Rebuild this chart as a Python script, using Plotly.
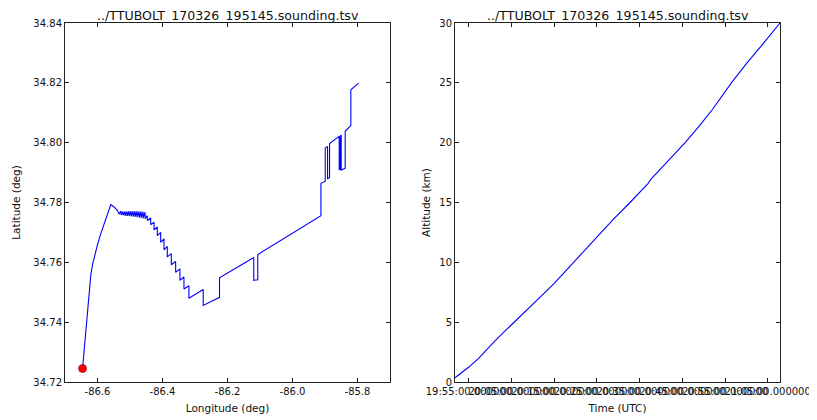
import plotly.graph_objects as go

# ---------------- data ----------------
TITLE = "../TTUBOLT_170326_195145.sounding.tsv"
DATE = "2017-03-26 "

# Track: longitude / latitude (deg)
lon = [
    -86.6460, -86.6409, -86.6358, -86.6307, -86.6256, -86.6205, -86.6153, -86.6082,
    -86.6000, -86.5898, -86.5795, -86.5693, -86.5591, -86.5488, -86.5386, -86.5335,
    -86.5274, -86.5274, -86.5212, -86.5212, -86.5151, -86.5151, -86.5090, -86.5090,
    -86.5028, -86.5028, -86.4967, -86.4967, -86.4905, -86.4905, -86.4844, -86.4844,
    -86.4783, -86.4783, -86.4721, -86.4721, -86.4660, -86.4660, -86.4598, -86.4598,
    -86.4537, -86.4537,
    -86.4466, -86.4466, -86.4363, -86.4363, -86.4261, -86.4261, -86.4159, -86.4159,
    -86.4056, -86.4056, -86.3954, -86.3954, -86.3852, -86.3852, -86.3729, -86.3729,
    -86.3596, -86.3596, -86.3463, -86.3463, -86.3340, -86.3340, -86.3187, -86.3187,
    -86.2747, -86.2747, -86.2246, -86.2246, -86.1192, -86.1192, -86.1069, -86.1069,
    -85.9125, -85.9125, -85.8992, -85.8992, -85.8921, -85.8921, -85.8860, -85.8860,
    -85.8563, -85.8563, -85.8532, -85.8532, -85.8501, -85.8501, -85.8379, -85.8379,
    -85.8205, -85.8205, -85.7969,
]
lat = [
    34.7245, 34.7308, 34.7375, 34.7447, 34.7520, 34.7559, 34.7592, 34.7626,
    34.7659, 34.7696, 34.7731, 34.7763, 34.7793, 34.7785, 34.7773, 34.7762,
    34.7771, 34.7758, 34.7770, 34.7757, 34.7770, 34.7756, 34.7770, 34.7755,
    34.7771, 34.7755, 34.7771, 34.7754, 34.7771, 34.7753, 34.7771, 34.7752,
    34.7771, 34.7751, 34.7770, 34.7750, 34.7770, 34.7749, 34.7769, 34.7747,
    34.7768, 34.7746,
    34.7756, 34.7740, 34.7748, 34.7726, 34.7734, 34.7709, 34.7718, 34.7689,
    34.7700, 34.7667, 34.7678, 34.7642, 34.7653, 34.7618, 34.7629, 34.7592,
    34.7603, 34.7567, 34.7578, 34.7540, 34.7551, 34.7511, 34.7522, 34.7480,
    34.7509, 34.7456, 34.7483, 34.7548, 34.7616, 34.7540, 34.7542, 34.7626,
    34.7756, 34.7864, 34.7871, 34.7982, 34.7987, 34.7880, 34.7883, 34.7997,
    34.8021, 34.7910, 34.7911, 34.8023, 34.8024, 34.7908, 34.7915, 34.8038,
    34.8057, 34.8177, 34.8199,
]

# Altitude vs time
time_utc = [
    "19:51:45", "19:53:30", "19:55:00", "19:57:20", "19:59:00", "20:01:00", "20:03:00",
    "20:05:40", "20:09:00", "20:12:00", "20:15:00", "20:19:30", "20:23:00", "20:26:00",
    "20:29:00", "20:32:45", "20:37:00", "20:37:40", "20:41:00", "20:45:40", "20:49:00",
    "20:52:00", "20:56:30", "21:00:00", "21:04:00", "21:07:53",
]
alt_km = [
    0.35, 0.85, 1.25, 2.00, 2.65, 3.40, 4.10,
    5.00, 6.15, 7.20, 8.25, 10.00, 11.30, 12.50,
    13.65, 15.00, 16.60, 16.95, 18.20, 20.00, 21.40,
    22.75, 25.00, 26.60, 28.30, 30.00,
]

lon_ticks = [-86.6, -86.4, -86.2, -86.0, -85.8]
lon_ticktext = ["-86.6", "-86.4", "-86.2", "-86.0", "-85.8"]
lat_ticks = [34.72, 34.74, 34.76, 34.78, 34.80, 34.82, 34.84]
alt_ticks = [0, 5, 10, 15, 20, 25, 30]
time_ticks = ["19:55:00", "20:05:00", "20:15:00", "20:25:00", "20:35:00",
              "20:45:00", "20:55:00", "21:05:00"]
time_ticktext = [t + ".000000" for t in time_ticks]

# ---------------- figure ----------------
# page body has an 8px default margin, so the figure is drawn 8px smaller
W, H = 809, 412
ML, MR, MT, MB = 57, 37, 15, 38
PW = W - ML - MR
FONT = "DejaVu Sans"
FRAME = "#222222"
BLUE = "#0000ff"
TXT = "#111111"

times = [DATE + t for t in time_utc]

fig = go.Figure()
fig.add_trace(go.Scatter(x=lon, y=lat, mode="lines",
                         line=dict(color=BLUE, width=1.1),
                         xaxis="x", yaxis="y", showlegend=False))
fig.add_trace(go.Scatter(x=[lon[0]], y=[lat[0]], mode="markers",
                         marker=dict(color="#ff0000", size=8,
                                     line=dict(color="#880000", width=0.6)),
                         xaxis="x", yaxis="y", showlegend=False))
fig.add_trace(go.Scatter(x=times, y=alt_km, mode="lines",
                         line=dict(color=BLUE, width=1.1),
                         xaxis="x2", yaxis="y2", showlegend=False))

axis_common = dict(showline=True, linecolor=FRAME, linewidth=1, mirror="allticks",
                   ticks="inside", ticklen=4, tickcolor=FRAME, tickwidth=1,
                   showgrid=False, zeroline=False, automargin=False,
                   tickfont=dict(family=FONT, size=10, color=TXT))

x1d = [0, 325 / PW]
x2d = [390 / PW, 1]

fig.update_layout(
    width=W, height=H,
    margin=dict(l=ML, r=MR, t=MT, b=MB, autoexpand=False),
    paper_bgcolor="white", plot_bgcolor="white",
    font=dict(family=FONT, size=10, color=TXT),
    xaxis=dict(domain=x1d, anchor="y", range=[-86.7, -85.7],
               tickmode="array", tickvals=lon_ticks, ticktext=lon_ticktext,
               title=dict(text="Longitude (deg)", font=dict(size=10.5), standoff=8),
               **axis_common),
    yaxis=dict(domain=[0, 1], anchor="x", range=[34.72, 34.84],
               tickmode="array", tickvals=lat_ticks, tickformat=".2f",
               title=dict(text="Latitude (deg)", font=dict(size=10.5), standoff=10),
               **axis_common),
    xaxis2=dict(domain=x2d, anchor="y2", type="date",
                range=[times[0], times[-1]],
                tickmode="array", tickvals=[DATE + t for t in time_ticks],
                ticktext=time_ticktext, tickangle=0,
                title=dict(text="Time (UTC)", font=dict(size=10.5), standoff=8),
                **axis_common),
    yaxis2=dict(domain=[0, 1], anchor="x2", range=[0, 30],
                tickmode="array", tickvals=alt_ticks,
                title=dict(text="Altitude (km)", font=dict(size=10.5), standoff=6),
                **axis_common),
    annotations=[
        dict(text=TITLE, x=(x1d[0] + x1d[1]) / 2, y=1, xref="paper", yref="paper",
             yshift=8, showarrow=False, xanchor="center", yanchor="middle",
             font=dict(family=FONT, size=12.6, color=TXT)),
        dict(text=TITLE, x=(x2d[0] + x2d[1]) / 2, y=1, xref="paper", yref="paper",
             yshift=8, showarrow=False, xanchor="center", yanchor="middle",
             font=dict(family=FONT, size=12.6, color=TXT)),
    ],
)

fig.write_html("out.html")
